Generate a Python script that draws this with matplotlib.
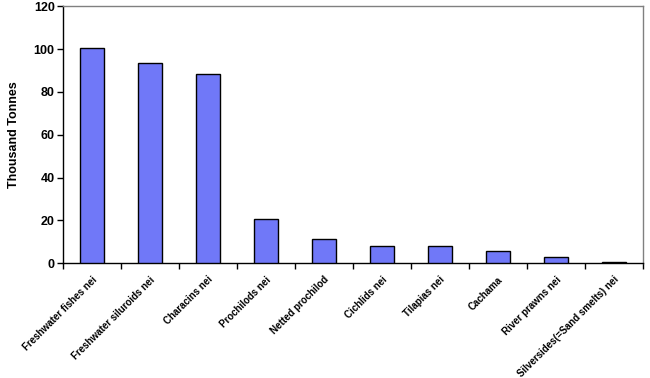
import matplotlib
matplotlib.use("Agg")
import matplotlib.pyplot as plt
import numpy as np

categories = ["Freshwater fishes nei", "Freshwater siluroids nei", "Characins nei",
              "Prochilods nei", "Netted prochilod", "Cichlids nei", "Tilapias nei",
              "Cachama", "River prawns nei", "Silversides(=Sand smelts) nei"]
values = [100.4, 93.4, 88.4, 20.7, 11.5, 8.1, 8.1, 5.9, 2.8, 0.8]
yticks = [0, 20, 40, 60, 80, 100, 120]

plt.rcParams['font.family'] = ['Liberation Sans', 'DejaVu Sans']
fig = plt.figure(figsize=(6.5, 3.78), dpi=100)
ax = fig.add_axes([0.097, 0.3034, 0.892, 0.680])
x = np.arange(len(categories))
ax.bar(x, values, width=0.42, color='#7078f8', edgecolor='black', linewidth=1.0, zorder=3)
ax.set_xlim(-0.5, len(categories) - 0.5)
ax.set_ylim(0, 120)
ax.set_yticks(yticks)
ax.set_yticklabels([str(v) for v in yticks], fontsize=9, fontweight='bold')
ax.set_xticks(x)
ax.set_xticklabels(categories, rotation=45, ha='right', rotation_mode='anchor',
                   fontsize=7, fontweight='bold')
ax.tick_params(axis='x', which='major', length=0, pad=8)
ax.set_xticks(np.arange(-0.5, len(categories)), minor=True)
ax.tick_params(axis='x', which='minor', length=4, width=1, direction='out')
ax.tick_params(axis='y', length=4, width=1, direction='out', pad=2)
ax.set_ylabel("Thousand Tonnes", fontsize=9, fontweight='bold', labelpad=10)
for s in ['top', 'right']:
    ax.spines[s].set_color('#808080')
    ax.spines[s].set_linewidth(1.0)
for s in ['left', 'bottom']:
    ax.spines[s].set_color('black')
    ax.spines[s].set_linewidth(1.0)
fig.savefig("out.png", dpi=100)
